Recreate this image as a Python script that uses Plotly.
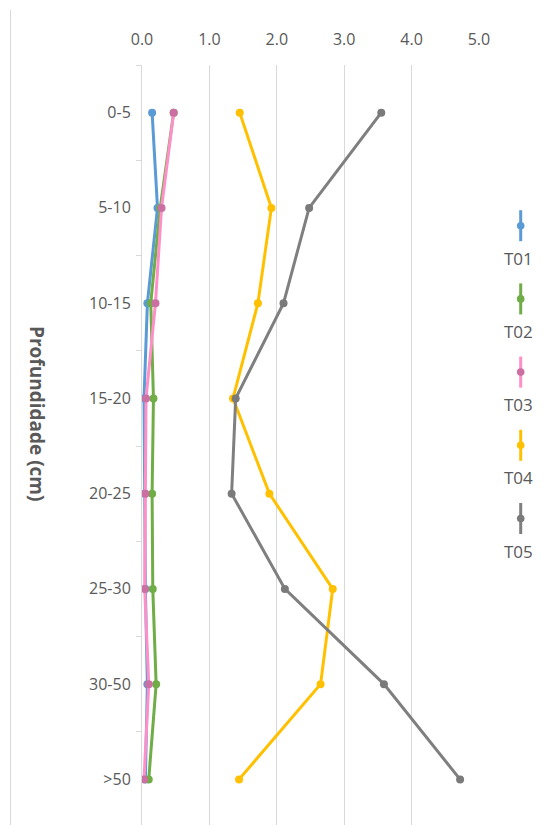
import plotly.graph_objects as go

# Depth layers (cm) and values per treatment
depths = ["0-5", "5-10", "10-15", "15-20", "20-25", "25-30", "30-50", ">50"]
t01 = [0.15, 0.23, 0.08, 0.03, 0.04, 0.05, 0.08, 0.05]
t02 = [0.47, 0.27, 0.13, 0.17, 0.15, 0.16, 0.21, 0.10]
t03 = [0.47, 0.29, 0.20, 0.06, 0.05, 0.04, 0.10, 0.03]
t04 = [1.45, 1.92, 1.72, 1.35, 1.89, 2.83, 2.65, 1.44]
t05 = [3.55, 2.48, 2.10, 1.39, 1.33, 2.12, 3.59, 4.72]
x_ticks = [0, 1, 2, 3, 4, 5]

names = ["T01", "T02", "T03", "T04", "T05"]
series = [t01, t02, t03, t04, t05]
line_colors = ["#5B9BD5", "#70AD47", "#FF8FC8", "#FFC000", "#7F7F7F"]
marker_colors = ["#5B9BD5", "#70AD47", "#CC6FA3", "#FFC000", "#7A7A7A"]

W, H = 556, 825
ML, MR, MT, MB = 142, 77, 65, 0
PW, PH = W - ML - MR, H - MT - MB

TEXT = "#595959"
GRID = "#D9D9D9"
FONT = "Open Sans"

fig = go.Figure()
for name, vals, lc, mc in zip(names, series, line_colors, marker_colors):
    fig.add_trace(go.Scatter(
        x=vals, y=depths, mode="lines+markers", name=name,
        line=dict(color=lc, width=3),
        marker=dict(color=mc, size=8),
        showlegend=False,
    ))


def px(x):
    return (x - ML) / PW


def py(y):
    return 1 - (y - MT) / PH


shapes = []
annotations = []

# Outer frame edge on the left
shapes.append(dict(type="line", xref="paper", yref="paper",
                   x0=px(10.5), x1=px(10.5), y0=py(10), y1=py(825),
                   line=dict(color=GRID, width=1)))

# Vertical legend with line-and-marker glyphs
lx, ly0, step = 520.7, 225.7, 73.2
for i, (name, lc, mc) in enumerate(zip(names, line_colors, marker_colors)):
    cy = ly0 + i * step
    shapes.append(dict(type="line", xref="paper", yref="paper",
                       x0=px(lx), x1=px(lx), y0=py(cy - 15.5), y1=py(cy + 15.5),
                       line=dict(color=lc, width=3)))
    r = 3.8
    shapes.append(dict(type="circle", xref="paper", yref="paper",
                       x0=px(lx - r), x1=px(lx + r), y0=py(cy + r), y1=py(cy - r),
                       fillcolor=mc, line=dict(color=mc, width=0)))
    annotations.append(dict(text=name, xref="paper", yref="paper",
                            x=px(518.5), y=py(cy + 32.6), showarrow=False,
                            xanchor="center", yanchor="middle",
                            font=dict(family=FONT, size=17, color=TEXT)))

# Axis title reading top to bottom
annotations.append(dict(text="<b>Profundidade (cm)</b>", xref="paper", yref="paper",
                        x=px(37), y=py(413), showarrow=False, textangle=90,
                        xanchor="center", yanchor="middle",
                        font=dict(family=FONT, size=19, color=TEXT)))

fig.update_layout(
    width=W, height=H,
    margin=dict(l=ML, r=MR, t=MT, b=MB, pad=0),
    paper_bgcolor="white", plot_bgcolor="white",
    font=dict(family=FONT, size=16, color=TEXT),
    shapes=shapes, annotations=annotations,
    showlegend=False,
)
fig.update_xaxes(
    side="top", range=[0, 5.0005], tickvals=x_ticks,
    ticktext=[f"{v:.1f}" for v in x_ticks],
    showgrid=True, gridcolor=GRID, gridwidth=1,
    zeroline=False, showline=False,
    ticks="outside", ticklen=13, tickcolor="rgba(0,0,0,0)",
    tickfont=dict(family=FONT, size=16, color=TEXT),
)
fig.update_yaxes(
    type="category", categoryorder="array", categoryarray=depths,
    range=[7.5 - 2 / 95.25, -0.5],
    showgrid=False, zeroline=False,
    showline=True, linecolor=GRID, linewidth=1,
    ticks="outside", ticklen=5, tickcolor=GRID, tickson="boundaries",
    ticklabelstandoff=7,
    tickfont=dict(family=FONT, size=16, color=TEXT),
)

fig.write_html("out.html")
